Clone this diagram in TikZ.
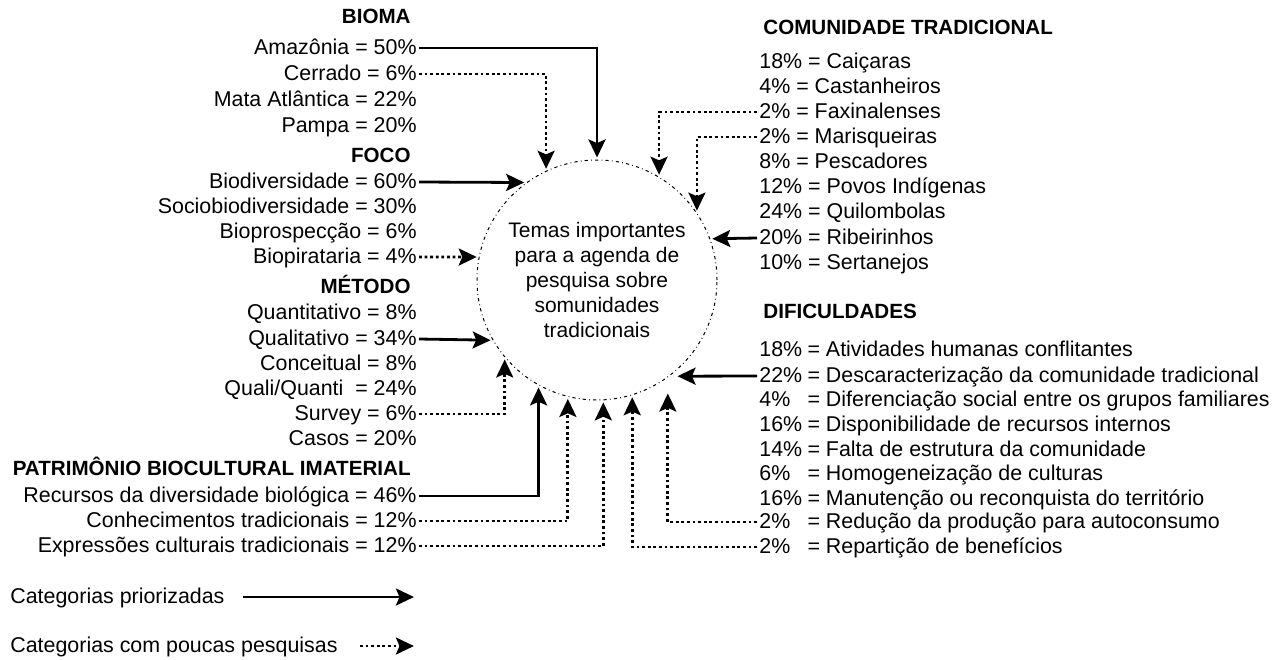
\documentclass[tikz,border=0pt]{standalone}
\usepackage{fontspec}
\setmainfont{Liberation Sans}
\usetikzlibrary{arrows.meta,positioning}

\tikzset{
  lbl/.style={font=\fontsize{10.7}{12}\selectfont, inner sep=1pt, text height=8pt, text depth=2pt},
  head/.style={lbl, font=\fontsize{10.3}{12}\selectfont\bfseries},
  prio/.style={line width=1.4pt, -{Stealth[length=9pt,width=8.5pt,inset=1.8pt]}, shorten >=1pt},
  pouca/.style={line width=1.4pt, dash pattern=on 1.4pt off 1.4pt, -{Stealth[length=9pt,width=8.5pt,inset=1.8pt]}, shorten >=1pt},
}

\begin{document}
\begin{tikzpicture}[x=0.5pt,y=-0.5pt]
\useasboundingbox (0,0) rectangle (1285,659);

\node[circle, draw, line width=0.5pt, dash pattern=on 1.6pt off 1.6pt on 0.4pt off 1.6pt,
  minimum size=120pt, inner sep=0pt, align=center, font=\fontsize{10.5}{12.5}\selectfont]
  (tema) at (597,280) {Temas importantes\\para a agenda de\\pesquisa sobre\\somunidades\\tradicionais};

\node[head, anchor=east] (bioma) at (413,17) {BIOMA};
\node[head, anchor=east] (foco) at (413,156) {FOCO};
\node[head, anchor=east] (metodo) at (413,287) {MÉTODO};
\node[head, anchor=east] (patr) at (413,469) {PATRIMÔNIO BIOCULTURAL IMATERIAL};

\foreach \nm/\yy/\tx in {amaz/48/Amazônia = 50\%, cerr/74/Cerrado = 6\%,
    mata/100/Mata Atlântica = 22\%, pamp/126/Pampa = 20\%,
    biod/182/Biodiversidade = 60\%, soci/207/Sociobiodiversidade = 30\%,
    bpro/232/Bioprospecção = 6\%, bpir/257/Biopirataria = 4\%,
    quan/313/Quantitativo = 8\%, qual/339/Qualitativo = 34\%,
    conc/364/Conceitual = 8\%, surv/414/Survey = 6\%, caso/439/Casos = 20\%,
    recu/496/Recursos da diversidade biológica = 46\%,
    conh/521/Conhecimentos tradicionais = 12\%,
    expr/546/Expressões culturais tradicionais = 12\%}
  \node[lbl, anchor=east] (\nm) at (419,\yy) {\tx};
\node[lbl, anchor=east] (qq) at (419,389) {Quali/Quanti\ \ = 24\%};

\node[head, anchor=west] (comu) at (761,28) {COMUNIDADE TRADICIONAL};
\node[head, anchor=west] (difi) at (761,312) {DIFICULDADES};

\foreach \nm/\yy/\tx in {cai/62/18\% = Caiçaras, cas/87/4\% = Castanheiros,
    fax/112/2\% = Faxinalenses, mar/137/2\% = Marisqueiras,
    pes/162/8\% = Pescadores, pov/187/12\% = Povos Indígenas,
    qui/212/24\% = Quilombolas, rib/238/20\% = Ribeirinhos,
    ser/263/10\% = Sertanejos}
  \node[lbl, anchor=west] (\nm) at (757,\yy) {\tx};

\foreach \nm/\yy/\pc/\tx in {ati/350/18/Atividades humanas conflitantes,
    des/376/22/Descaracterização da comunidade tradicional,
    dif/400/4/Diferenciação social entre os grupos familiares,
    dis/425/16/Disponibilidade de recursos internos,
    fal/450/14/Falta de estrutura da comunidade,
    hom/474/6/Homogeneização de culturas,
    man/499/16/Manutenção ou reconquista do território,
    red/522/2/Redução da produção para autoconsumo,
    rep/547/2/Repartição de benefícios}
  \node[lbl, anchor=west] (\nm) at (757,\yy) {\makebox[2.25em][l]{\pc\%}= \tx};

\draw[prio] (amaz.east) -| (tema.90);
\draw[pouca] (cerr.east) -| (tema.115);
\draw[prio] (biod.east) -- (tema.126);
\draw[pouca] (bpir.east) -- (tema.169);
\draw[prio] (qual.east) -- (tema.210);
\draw[pouca] (surv.east) -| (tema.220);
\draw[prio] (recu.east) -| (tema.241);
\draw[pouca] (conh.east) -| (tema.256);
\draw[pouca] (expr.east) -| (tema.273);

\draw[pouca] (fax.west) -| (tema.59);
\draw[pouca] (mar.west) -| (tema.34);
\draw[prio] (rib.west) -- (tema.20);
\draw[prio, shorten >=4pt] (des.west) -- (tema.307);
\draw[pouca, shorten >=8pt] (red.west) -| (tema.306);
\draw[pouca] (rep.west) -| (tema.287);

\node[lbl, anchor=west] (leg1) at (8,597) {Categorias priorizadas};
\node[lbl, anchor=west] (leg2) at (8,646) {Categorias com poucas pesquisas};
\coordinate[right=38pt of leg2] (fim2);
\coordinate (fim1) at (fim2 |- leg1.east);
\draw[prio] ([xshift=8pt]leg1.east) -- (fim1);
\draw[pouca] ([xshift=10pt]leg2.east) -- (fim2);
\end{tikzpicture}
\end{document}
